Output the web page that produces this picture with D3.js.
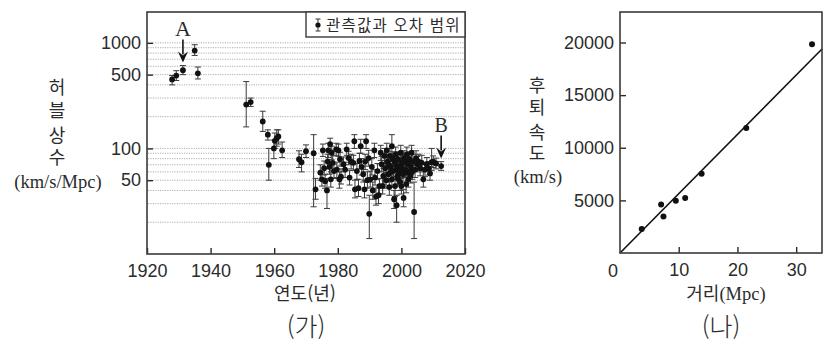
<!DOCTYPE html>
<html lang="ko">
<head>
  <meta charset="UTF-8"/>
  <title>허블 상수와 허블 법칙</title>
  <script src="https://d3js.org/d3.v7.min.js"></script>
  <style>
    body { margin: 0; background: #fff; }
    svg text { fill: #2b2b2b; }
    .vert { writing-mode: vertical-rl; text-orientation: upright; }
  </style>
</head>
<body>
<script>

// (가) 연도별 허블 상수 측정값 : 연도, 측정값, 오차 하한, 오차 상한
var hubbleYear = [
  1927.9, 1929.2, 1931.3, 1935.0, 1936.0, 1951.2, 1952.6, 1956.4, 1958.0, 1958.3,
  1959.9, 1960.2, 1960.8, 1961.3, 1962.5, 1967.8, 1968.6, 1970.0, 1972.4, 1973.0,
  1974.5, 1975.0, 1975.3, 1975.7, 1976.0, 1976.6, 1976.8, 1977.0, 1977.4, 1977.6,
  1977.8, 1978.1, 1978.4, 1978.8, 1979.5, 1979.7, 1980.2, 1980.5, 1980.7, 1981.0,
  1981.8, 1982.3, 1982.8, 1983.4, 1983.7, 1984.2, 1984.9, 1985.2, 1985.4, 1986.0,
  1986.5, 1986.8, 1987.2, 1987.5, 1988.0, 1988.4, 1988.6, 1988.9, 1989.3, 1989.7,
  1989.9, 1990.2, 1990.7, 1991.0, 1991.5, 1991.7, 1992.0, 1992.5, 1992.8, 1993.1,
  1993.5, 1993.8, 1994.1, 1994.3, 1994.7, 1994.9, 1995.2, 1995.4, 1995.6, 1995.9,
  1996.0, 1996.2, 1996.4, 1996.6, 1996.8, 1997.0, 1997.0, 1997.3, 1997.5, 1997.7,
  1997.8, 1998.0, 1998.2, 1998.3, 1998.5, 1998.6, 1998.7, 1998.9, 1999.0, 1999.2,
  1999.4, 1999.6, 1999.8, 1999.9, 2000.0, 2000.2, 2000.4, 2000.5, 2000.7, 2000.8,
  2001.0, 2001.2, 2001.5, 2001.7, 2001.9, 2002.0, 2002.2, 2002.5, 2002.7, 2002.9,
  2003.0, 2003.2, 2003.4, 2003.6, 2004.0, 2004.3, 2004.6, 2005.0, 2005.4, 2005.9,
  2006.4, 2006.9, 2007.4, 2008.0, 2008.5, 2009.0, 2009.5, 2010.0, 2010.9, 2012.5
];
var hubbleValue = [
  450, 490, 550, 845, 515, 260, 275, 180, 135, 70,
  100, 118, 125, 130, 96, 79, 74, 94, 90, 41,
  59, 51, 96, 65, 49, 40, 75, 96, 67, 110,
  51, 91, 73, 61, 98, 63, 96, 51, 79, 54,
  71, 63, 98, 81, 53, 75, 73, 117, 41, 61,
  42, 76, 105, 67, 57, 41, 75, 117, 50, 81,
  24, 51, 67, 40, 96, 53, 35, 61, 36, 44,
  91, 71, 44, 55, 85, 65, 50, 96, 75, 57,
  70, 43, 85, 67, 60, 105, 51, 79, 61, 33,
  75, 44, 88, 71, 29, 64, 55, 52, 79, 58,
  65, 48, 91, 68, 44, 73, 62, 57, 34, 81,
  76, 63, 46, 88, 59, 71, 51, 79, 61, 55,
  67, 91, 60, 75, 25, 63, 81, 71, 75, 65,
  73, 51, 63, 71, 65, 58, 74, 75, 72, 68
];
var hubbleLow = [
  400, 440, 500, 760, 455, 160, 250, 145, 120, 50,
  80, 100, 105, 110, 82, 66, 60, 82, 28, 33,
  50, 44, 84, 56, 42, 27, 64, 82, 57, 96,
  43, 78, 62, 52, 86, 53, 84, 42, 68, 46,
  60, 53, 86, 70, 45, 64, 62, 100, 34, 51,
  35, 64, 90, 56, 48, 34, 63, 100, 42, 68,
  14, 43, 56, 33, 82, 45, 29, 51, 30, 37,
  77, 60, 37, 46, 72, 55, 42, 82, 63, 48,
  60, 36, 72, 56, 51, 85, 43, 67, 51, 27,
  64, 35, 75, 60, 20, 54, 46, 44, 67, 49,
  55, 40, 77, 58, 37, 62, 53, 48, 28, 69,
  65, 53, 38, 75, 50, 60, 43, 67, 51, 47,
  57, 77, 51, 63, 14, 53, 69, 60, 63, 55,
  62, 43, 54, 61, 56, 50, 62, 66, 64, 62
];
var hubbleHigh = [
  490, 545, 610, 960, 590, 430, 300, 225, 150, 100,
  120, 140, 150, 150, 115, 95, 88, 108, 135, 52,
  70, 60, 110, 76, 57, 52, 88, 112, 78, 125,
  60, 105, 85, 71, 112, 74, 110, 60, 92, 64,
  83, 74, 112, 94, 62, 88, 86, 135, 50, 72,
  51, 90, 122, 80, 68, 50, 88, 135, 60, 96,
  36, 61, 80, 48, 112, 63, 42, 72, 43, 52,
  107, 84, 52, 65, 100, 77, 59, 112, 88, 67,
  82, 51, 100, 79, 70, 135, 60, 93, 72, 40,
  88, 54, 103, 84, 36, 75, 65, 61, 93, 68,
  77, 57, 107, 80, 52, 86, 73, 67, 41, 95,
  89, 74, 55, 103, 69, 84, 60, 93, 72, 64,
  79, 107, 70, 88, 48, 74, 95, 84, 88, 77,
  86, 60, 73, 82, 75, 67, 100, 85, 81, 75
];

var gridValues  = [20, 30, 40, 50, 60, 70, 80, 90, 100, 200, 300, 400, 500, 600, 700, 800, 900, 1000];
var hTickValues = [50, 100, 500, 1000];
var yearTicks   = [1920, 1940, 1960, 1980, 2000, 2020];

var markLabels = ["A", "B"];
var markIndex  = [2, 139];

// (나) 은하까지의 거리와 후퇴 속도
var distance = [3.7, 7.0, 7.4, 9.5, 11.1, 13.9, 21.5, 32.7];
var velocity = [2280, 4620, 3480, 4970, 5220, 7530, 11870, 19830];
var fitDistance = [0, 34.4];
var fitVelocity = [0, 19380];
var distTicks = [10, 20, 30];
var velTicks  = [5000, 10000, 15000, 20000];

var w = 830;
var h = 345;
var numFont = "'Liberation Sans', Arial, sans-serif";
var korFont = "'Noto Sans CJK KR', sans-serif";
var serifFont = "'Liberation Serif', serif";
var ink = "#2b2b2b";

var svg = d3.select("body")
            .append("svg")
            .attr("width", w)
            .attr("height", h);

// vertical (upright) word, centred on cy
function vertWord(cx, cy, word, gap) {
  svg.append("text")
     .attr("class", "vert")
     .attr("x", cx).attr("y", cy + gap / 2)
     .attr("text-anchor", "middle")
     .attr("font-family", korFont).attr("font-size", 18)
     .attr("letter-spacing", gap)
     .text(word);
}

// ---------- (가) ----------
var x1 = d3.scaleLinear().domain([1920, 2020]).range([147, 465]);
var y1 = d3.scaleLog().domain([10, 1960]).range([254, 12]);

var g1 = svg.append("g");

g1.selectAll("line.grid")
  .data(gridValues)
  .enter()
  .append("line")
  .attr("class", "grid")
  .attr("x1", 148).attr("x2", 464)
  .attr("y1", function(d) { return y1(d); })
  .attr("y2", function(d) { return y1(d); })
  .attr("stroke", "#9a9a9a")
  .attr("stroke-width", 0.8)
  .attr("stroke-dasharray", "1.2,1.2");

var ax1 = g1.append("g")
  .attr("transform", "translate(0,254)")
  .call(d3.axisBottom(x1).tickValues(yearTicks).tickFormat(d3.format("d"))
        .tickSize(-6).tickPadding(10));
var ay1 = g1.append("g")
  .attr("transform", "translate(147,0)")
  .call(d3.axisLeft(y1).tickValues(hTickValues).tickFormat(d3.format("d"))
        .tickSize(-6).tickPadding(6));

[ax1, ay1].forEach(function(a) {
  a.select(".domain").remove();
  a.selectAll("line").attr("stroke", ink).attr("stroke-width", 1.4);
  a.selectAll("text").attr("font-family", numFont).attr("font-size", 18).attr("fill", ink);
});

// error bars
var bars = g1.selectAll("g.bar")
  .data(hubbleYear.map(function(d, i) { return i; }))
  .enter()
  .append("g")
  .attr("class", "bar")
  .attr("stroke", "#3a3a3a")
  .attr("stroke-width", 1);

bars.append("line")
  .attr("x1", function(i) { return x1(hubbleYear[i]); })
  .attr("x2", function(i) { return x1(hubbleYear[i]); })
  .attr("y1", function(i) { return y1(hubbleLow[i]); })
  .attr("y2", function(i) { return y1(hubbleHigh[i]); });
bars.append("line")
  .attr("x1", function(i) { return x1(hubbleYear[i]) - 3; })
  .attr("x2", function(i) { return x1(hubbleYear[i]) + 3; })
  .attr("y1", function(i) { return y1(hubbleLow[i]); })
  .attr("y2", function(i) { return y1(hubbleLow[i]); });
bars.append("line")
  .attr("x1", function(i) { return x1(hubbleYear[i]) - 3; })
  .attr("x2", function(i) { return x1(hubbleYear[i]) + 3; })
  .attr("y1", function(i) { return y1(hubbleHigh[i]); })
  .attr("y2", function(i) { return y1(hubbleHigh[i]); });

g1.selectAll("circle")
  .data(hubbleYear.map(function(d, i) { return i; }))
  .enter()
  .append("circle")
  .attr("cx", function(i) { return x1(hubbleYear[i]); })
  .attr("cy", function(i) { return y1(hubbleValue[i]); })
  .attr("r", 2.9)
  .attr("fill", "#111");

// A, B arrows
markIndex.forEach(function(idx, k) {
  var ax = x1(hubbleYear[idx]);
  var tip = y1(hubbleHigh[idx]) - 3;
  g1.append("line")
    .attr("x1", ax).attr("x2", ax)
    .attr("y1", tip - 23).attr("y2", tip - 8)
    .attr("stroke", "#111").attr("stroke-width", 1.6);
  g1.append("path")
    .attr("d", "M" + (ax - 5) + "," + (tip - 11) + "L" + ax + "," + tip + "L" + (ax + 5) + "," + (tip - 11) +
               "L" + ax + "," + (tip - 7) + "Z")
    .attr("fill", "#111");
  g1.append("text")
    .attr("x", ax).attr("y", tip - 27)
    .attr("text-anchor", "middle")
    .attr("font-family", serifFont)
    .attr("font-size", k == 0 ? 22 : 20)
    .text(markLabels[k]);
});

// frame
g1.append("rect")
  .attr("x", 147).attr("y", 12).attr("width", 318).attr("height", 242)
  .attr("fill", "none").attr("stroke", "#3a3a3a").attr("stroke-width", 1.6);

// legend
var lg = g1.append("g");
lg.append("rect")
  .attr("x", 306).attr("y", 12).attr("width", 159).attr("height", 25)
  .attr("fill", "#fff").attr("stroke", "#3a3a3a").attr("stroke-width", 1.4);
lg.append("line").attr("x1", 318).attr("x2", 318).attr("y1", 19).attr("y2", 31)
  .attr("stroke", "#333").attr("stroke-width", 1);
lg.append("line").attr("x1", 315.5).attr("x2", 320.5).attr("y1", 19).attr("y2", 19)
  .attr("stroke", "#333").attr("stroke-width", 1);
lg.append("line").attr("x1", 315.5).attr("x2", 320.5).attr("y1", 31).attr("y2", 31)
  .attr("stroke", "#333").attr("stroke-width", 1);
lg.append("circle").attr("cx", 318).attr("cy", 25).attr("r", 2.6).attr("fill", "#111");
lg.append("text")
  .attr("x", 326).attr("y", 30.5)
  .attr("font-family", korFont).attr("font-size", 15.5)
  .attr("letter-spacing", 1.2)
  .text("관측값과 오차 범위");

// axis titles
vertWord(57, 98.5, "허블", 5);
vertWord(57, 146, "상수", 4);
svg.append("text")
  .attr("x", 58).attr("y", 188)
  .attr("text-anchor", "middle")
  .attr("font-family", serifFont).attr("font-size", 18.5)
  .text("(km/s/Mpc)");

svg.append("text")
  .attr("x", 305).attr("y", 300)
  .attr("text-anchor", "middle")
  .attr("font-family", korFont).attr("font-size", 18)
  .text("연도(년)");
svg.append("text")
  .attr("x", 306).attr("y", 336)
  .attr("text-anchor", "middle")
  .attr("font-family", korFont).attr("font-size", 25).attr("font-weight", 300)
  .text("(가)");

// ---------- (나) ----------
var x2 = d3.scaleLinear().domain([0, 34.4]).range([620, 822]);
var y2 = d3.scaleLinear().domain([0, 22900]).range([253, 12]);

var g2 = svg.append("g");

var ax2 = g2.append("g")
  .attr("transform", "translate(0,253)")
  .call(d3.axisBottom(x2).tickValues(distTicks).tickSize(-6).tickPadding(10));
var ay2 = g2.append("g")
  .attr("transform", "translate(620,0)")
  .call(d3.axisLeft(y2).tickValues(velTicks).tickFormat(d3.format("d")).tickSize(-6).tickPadding(6));

[ax2, ay2].forEach(function(a) {
  a.select(".domain").remove();
  a.selectAll("line").attr("stroke", ink).attr("stroke-width", 1.4);
  a.selectAll("text").attr("font-family", numFont).attr("font-size", 18).attr("fill", ink);
});

g2.append("text")
  .attr("x", x2(0) - 7).attr("y", 277)
  .attr("text-anchor", "middle")
  .attr("font-family", numFont).attr("font-size", 18)
  .text("0");

g2.append("line")
  .attr("x1", x2(fitDistance[0])).attr("y1", y2(fitVelocity[0]))
  .attr("x2", x2(fitDistance[1])).attr("y2", y2(fitVelocity[1]))
  .attr("stroke", "#111").attr("stroke-width", 1.6);

g2.selectAll("circle")
  .data(distance)
  .enter()
  .append("circle")
  .attr("cx", function(d) { return x2(d); })
  .attr("cy", function(d, i) { return y2(velocity[i]); })
  .attr("r", 3)
  .attr("fill", "#111");

g2.append("rect")
  .attr("x", 620).attr("y", 12).attr("width", 202).attr("height", 241)
  .attr("fill", "none").attr("stroke", "#3a3a3a").attr("stroke-width", 1.6);

vertWord(537, 96, "후퇴", 4);
vertWord(537, 142.5, "속도", 3);
svg.append("text")
  .attr("x", 538).attr("y", 183)
  .attr("text-anchor", "middle")
  .attr("font-family", serifFont).attr("font-size", 18.5)
  .text("(km/s)");

var xt2 = svg.append("text")
  .attr("x", 726).attr("y", 300)
  .attr("text-anchor", "middle");
xt2.append("tspan").attr("font-family", korFont).attr("font-size", 18).text("거리");
xt2.append("tspan").attr("font-family", serifFont).attr("font-size", 18.5).text("(Mpc)");

svg.append("text")
  .attr("x", 721).attr("y", 336)
  .attr("text-anchor", "middle")
  .attr("font-family", korFont).attr("font-size", 25).attr("font-weight", 300)
  .text("(나)");

</script>
</body>
</html>
